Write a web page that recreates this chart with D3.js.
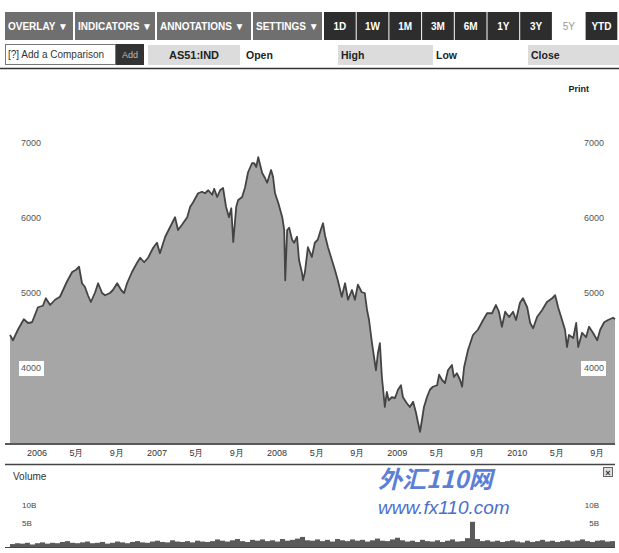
<!DOCTYPE html>
<html><head><meta charset="utf-8">
<script src="https://cdn.jsdelivr.net/npm/d3@7"></script>
<style>
body{margin:0;background:#fff;}
svg{display:block;font-family:"Liberation Sans",Arial,sans-serif;}
</style>
</head><body><svg id="c" width="619" height="553"></svg>
<script>
// ---------- data ----------
const dates = ["2005-10-11","2005-10-20","2005-11-04","2005-11-22","2005-12-05","2005-12-17","2006-01-04","2006-01-19","2006-01-28","2006-02-10","2006-02-25","2006-03-12","2006-04-02","2006-04-18","2006-04-30","2006-05-09","2006-05-18","2006-05-27","2006-06-05","2006-06-14","2006-06-27","2006-07-06","2006-07-18","2006-07-27","2006-08-11","2006-08-20","2006-09-02","2006-09-14","2006-09-23","2006-10-02","2006-10-17","2006-11-01","2006-11-11","2006-11-23","2006-12-05","2006-12-20","2007-01-01","2007-01-10","2007-01-26","2007-02-10","2007-02-25","2007-03-06","2007-03-18","2007-04-03","2007-04-12","2007-04-21","2007-05-06","2007-05-18","2007-05-27","2007-06-06","2007-06-18","2007-06-24","2007-07-03","2007-07-12","2007-07-21","2007-07-30","2007-08-08","2007-08-15","2007-08-21","2007-08-30","2007-09-05","2007-09-17","2007-09-26","2007-10-05","2007-10-17","2007-10-24","2007-10-30","2007-11-05","2007-11-17","2007-11-26","2007-12-02","2007-12-14","2007-12-20","2007-12-26","2008-01-05","2008-01-17","2008-01-23","2008-01-26","2008-02-01","2008-02-07","2008-02-16","2008-02-22","2008-03-02","2008-03-08","2008-03-17","2008-03-20","2008-03-26","2008-04-04","2008-04-16","2008-04-25","2008-05-04","2008-05-13","2008-05-20","2008-05-26","2008-06-04","2008-06-16","2008-06-25","2008-07-04","2008-07-16","2008-07-26","2008-08-04","2008-08-16","2008-08-25","2008-09-03","2008-09-15","2008-09-24","2008-10-01","2008-10-07","2008-10-16","2008-10-22","2008-10-28","2008-11-03","2008-11-09","2008-11-15","2008-11-18","2008-11-24","2008-11-30","2008-12-06","2008-12-15","2008-12-25","2009-01-03","2009-01-12","2009-01-18","2009-01-30","2009-02-08","2009-02-18","2009-02-27","2009-03-05","2009-03-11","2009-03-17","2009-03-23","2009-04-01","2009-04-10","2009-04-19","2009-05-02","2009-05-08","2009-05-17","2009-05-26","2009-06-04","2009-06-16","2009-06-22","2009-07-01","2009-07-11","2009-07-17","2009-07-23","2009-08-04","2009-08-19","2009-09-03","2009-09-19","2009-10-01","2009-10-16","2009-10-28","2009-11-06","2009-11-15","2009-11-25","2009-12-07","2009-12-19","2009-12-28","2010-01-09","2010-01-18","2010-01-31","2010-02-09","2010-02-18","2010-03-02","2010-03-17","2010-04-01","2010-04-17","2010-04-26","2010-05-05","2010-05-17","2010-05-26","2010-06-01","2010-06-07","2010-06-20","2010-06-29","2010-07-05","2010-07-17","2010-07-29","2010-08-07","2010-08-19","2010-09-01","2010-09-10","2010-09-22","2010-10-04","2010-10-19","2010-10-25"];
const closes = [4440,4370,4510,4650,4600,4610,4810,4830,4930,4840,4910,4950,5150,5280,5310,5350,5130,5080,4970,4880,5010,5130,5000,4970,5000,5040,5130,5040,5000,5130,5280,5400,5470,5410,5470,5600,5670,5530,5750,5880,6010,5840,5910,6010,6150,6210,6330,6350,6330,6370,6310,6390,6280,6370,6400,6150,6010,6130,5680,6150,6240,6280,6410,6610,6730,6730,6680,6810,6600,6530,6470,6640,6550,6330,6200,6010,5840,5170,5840,5870,5710,5670,5750,5440,5270,5170,5280,5610,5480,5670,5710,5840,5930,5770,5610,5440,5310,5170,4950,5130,4910,5040,4910,5110,5010,5000,4770,4640,4330,4150,3970,4200,4330,3880,3750,3480,3680,3570,3610,3600,3710,3770,3610,3530,3480,3550,3400,3270,3150,3310,3480,3610,3710,3750,3770,3910,3840,3800,3970,4040,3880,3930,3840,3750,4010,4240,4440,4510,4640,4730,4730,4840,4750,4550,4750,4680,4750,4640,4870,4930,4810,4600,4530,4680,4770,4880,4930,4970,4810,4640,4510,4280,4440,4400,4600,4280,4470,4410,4550,4470,4370,4510,4610,4640,4670,4650];

const xTickDates = ["2006-01-01","2006-05-01","2006-09-01","2007-01-01","2007-05-01","2007-09-01","2008-01-01","2008-05-01","2008-09-01","2009-01-01","2009-05-01","2009-09-01","2010-01-01","2010-05-01","2010-09-01"];
const xTickLabels = ["2006","5月","9月","2007","5月","9月","2008","5月","9月","2009","5月","9月","2010","5月","9月"];
const yTicks = [4000,5000,6000,7000];

// volume, in billions, evenly spaced bins across the period
const volumes = [0.7,0.9,0.8,1.0,0.6,0.9,1.1,0.8,1.0,0.9,1.2,1.4,1.0,0.9,1.1,1.3,0.9,1.0,1.2,0.8,
1.0,1.3,1.1,0.9,1.2,1.4,1.1,1.0,1.3,1.5,1.2,1.1,1.6,1.3,1.2,1.4,1.1,1.5,1.3,1.2,
1.4,1.8,1.5,1.3,1.6,1.9,1.4,1.2,1.7,1.5,1.8,1.4,1.6,1.3,1.9,1.5,1.7,2.0,2.4,1.6,
1.5,1.8,1.4,1.7,1.3,1.9,1.6,1.4,1.8,1.5,1.7,1.3,1.6,2.0,1.5,1.4,1.8,2.2,1.6,1.3,
1.5,1.2,1.7,1.4,1.3,1.6,1.2,1.5,1.8,1.3,1.4,2.1,6.0,1.9,1.4,1.6,1.3,1.5,1.2,1.4,
1.6,1.3,1.1,1.5,1.2,1.4,1.7,1.3,1.5,1.2,1.4,1.6,1.3,1.5,1.8,1.4,1.2,1.5,1.6,1.3,1.4];
const volTicks = [5,10];
const volTickLabels = ["5B","10B"];

const menuLabels = ["OVERLAY \u25BC","INDICATORS \u25BC","ANNOTATIONS \u25BC","SETTINGS \u25BC"];
const periodLabels = ["1D","1W","1M","3M","6M","1Y","3Y","5Y","YTD"];
const selectedPeriod = "5Y";
const quoteLabels = ["AS51:IND","Open","High","Low","Close"];

// ---------- drawing ----------
const svg = d3.select("#c");
const parse = d3.timeParse("%Y-%m-%d");
const data = dates.map((d,i)=>({date:parse(d), v:closes[i]}));

// toolbar row 1
const menuBoxes = [[5,73],[75,155],[157,251],[253,322]];
menuLabels.forEach((l,i)=>{
  const [a,b]=menuBoxes[i];
  svg.append("rect").attr("x",a).attr("y",12).attr("width",b-a).attr("height",28).attr("fill","#6f6f6f");
  svg.append("text").attr("x",a+3).attr("y",30).attr("fill","#fff").attr("font-size",10).attr("font-weight","bold").text(l);
});
const pStart=324, pW=31.7;
periodLabels.forEach((l,i)=>{
  const a = pStart + i*pW + i*1;
  const sel = l===selectedPeriod;
  svg.append("rect").attr("x",a).attr("y",12).attr("width",pW).attr("height",28).attr("fill",sel?"#fff":"#2d2d2d");
  svg.append("text").attr("x",a+pW/2).attr("y",30).attr("text-anchor","middle").attr("fill",sel?"#999":"#fff")
    .attr("font-size",10).attr("font-weight",sel?"normal":"bold").text(l);
});

// toolbar row 2
svg.append("rect").attr("x",5.5).attr("y",44.5).attr("width",110).attr("height",20).attr("fill","#fff").attr("stroke","#777");
svg.append("text").attr("x",8).attr("y",58).attr("font-size",10).attr("fill","#333").text("[?] Add a Comparison");
svg.append("rect").attr("x",116).attr("y",44).attr("width",28).attr("height",21).attr("fill","#333");
svg.append("text").attr("x",130).attr("y",58).attr("text-anchor","middle").attr("font-size",9).attr("fill","#bbb").text("Add");
const qBoxes = [[148,240,true],[240,338,false],[338,433,true],[433,528,false],[528,619,true]];
quoteLabels.forEach((l,i)=>{
  const [a,b,shade]=qBoxes[i];
  if(shade) svg.append("rect").attr("x",a).attr("y",45).attr("width",b-a).attr("height",20).attr("fill","#dcdcdc");
  const t = svg.append("text").attr("y",59).attr("font-size",10.5).attr("font-weight","bold").attr("fill","#222").text(l);
  if(i===0) t.attr("x",(a+b)/2).attr("text-anchor","middle").attr("font-size",11);
  else t.attr("x",a+(i===1?6:3));
});
svg.append("line").attr("x1",0).attr("x2",619).attr("y1",68.5).attr("y2",68.5).attr("stroke","#333").attr("stroke-width",1.5);

svg.append("text").attr("x",589).attr("y",92).attr("text-anchor","end").attr("font-size",9).attr("font-weight","bold").attr("fill","#222").text("Print");

// scales
const x = d3.scaleTime().domain(d3.extent(data,d=>d.date)).range([10,615]);
const y = d3.scaleLinear().domain([3000,7000]).range([443,143]);

const area = d3.area().x(d=>x(d.date)).y0(y(3000)).y1(d=>y(d.v));
const line = d3.line().x(d=>x(d.date)).y(d=>y(d.v));
svg.append("path").datum(data).attr("d",area).attr("fill","#a6a6a6");
svg.append("path").datum(data).attr("d",line).attr("fill","none").attr("stroke","#444").attr("stroke-width",1.8).attr("stroke-linejoin","round");

// y labels both sides
const bisect = d3.bisector(d=>d.date).left;
function valueAtX(px){ const dt=x.invert(px); const i=Math.min(data.length-1,Math.max(0,bisect(data,dt))); return data[i].v; }
[[21,"start",31],[604,"end",594]].forEach(([lx,anchor,cx])=>{
  yTicks.forEach(t=>{
    const yy=y(t);
    const inside = t < valueAtX(cx);
    if(inside){
      svg.append("rect").attr("x",anchor==="start"?lx-2:lx-23).attr("y",yy-7).attr("width",25).attr("height",15).attr("fill","#fff");
    }
    svg.append("text").attr("x",lx).attr("y",yy+3).attr("text-anchor",anchor).attr("font-size",9).attr("fill","#555").text(t);
  });
});

// x axis
svg.append("line").attr("x1",5).attr("x2",615).attr("y1",444).attr("y2",444).attr("stroke","#222").attr("stroke-width",1.5);
xTickDates.forEach((d,i)=>{
  svg.append("text").attr("x",x(parse(d))).attr("y",456).attr("text-anchor","middle").attr("font-size",9).attr("fill","#333").text(xTickLabels[i]);
});
svg.append("line").attr("x1",5).attr("x2",615).attr("y1",464.5).attr("y2",464.5).attr("stroke","#444").attr("stroke-width",1.5);

// volume panel
svg.append("text").attr("x",13).attr("y",480).attr("font-size",10).attr("fill","#333").text("Volume");
svg.append("rect").attr("x",603.5).attr("y",467.5).attr("width",9).attr("height",9).attr("fill","#ddd").attr("stroke","#666");
svg.append("text").attr("x",608).attr("y",475.5).attr("text-anchor","middle").attr("font-size",9).attr("font-weight","bold").attr("fill","#333").text("×");
const yv = d3.scaleLinear().domain([0,10]).range([547,505]);
volTicks.forEach((t,i)=>{
  svg.append("text").attr("x",22).attr("y",yv(t)+(i===0?0:3)).attr("font-size",8).attr("fill","#444").text(volTickLabels[i]);
  svg.append("text").attr("x",599).attr("y",yv(t)+(i===0?0:3)).attr("text-anchor","end").attr("font-size",8).attr("fill","#444").text(volTickLabels[i]);
});
const [t0,t1]=x.domain();
const step=(t1-t0)/volumes.length;
svg.append("g").selectAll("rect").data(volumes).join("rect")
  .attr("x",(v,i)=>x(new Date(+t0+i*step)))
  .attr("width",(v,i)=>x(new Date(+t0+(i+1)*step))-x(new Date(+t0+i*step)))
  .attr("y",v=>yv(v)).attr("height",v=>yv(0)-yv(v)).attr("fill","#5a5a5a");
svg.append("line").attr("x1",5).attr("x2",615).attr("y1",547.5).attr("y2",547.5).attr("stroke","#444");

// watermark (kept clear of the axis labels)
svg.append("text").attr("x",378).attr("y",488).attr("font-size",24).attr("font-weight","bold").attr("font-style","italic")
  .attr("font-family","'Noto Sans CJK SC','Liberation Sans',sans-serif")
  .attr("fill","#5b7fd6").text("外汇110网");
svg.append("text").attr("x",378).attr("y",514).attr("font-size",19).attr("font-style","italic")
  .attr("fill","#4a6fcc").text("www.fx110.com");
</script>
</body></html>
